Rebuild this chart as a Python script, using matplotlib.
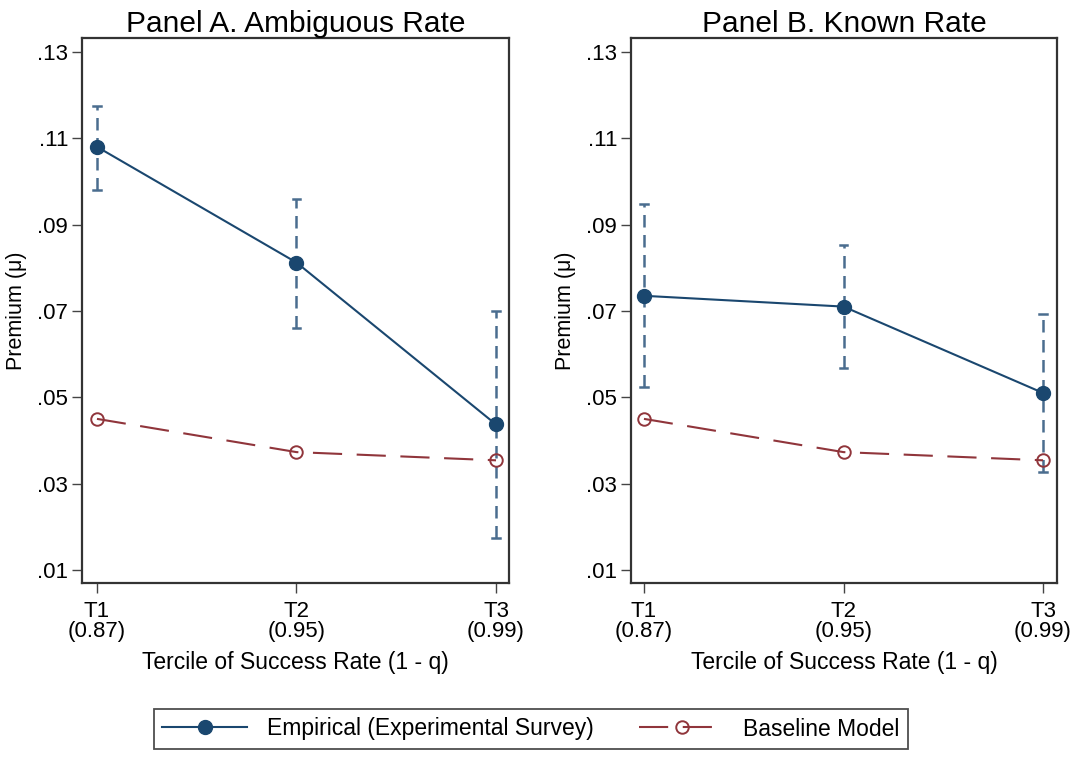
import matplotlib
matplotlib.use("Agg")
import matplotlib.pyplot as plt
import numpy as np

plt.rcParams['font.family'] = ['Liberation Sans', 'DejaVu Sans']

terciles = ["T1\n(0.87)", "T2\n(0.95)", "T3\n(0.99)"]
x = [1, 2, 3]

# Panel A: Ambiguous rate
emp_a = [0.108, 0.0812, 0.0437]
emp_a_lo = [0.098, 0.066, 0.0173]
emp_a_hi = [0.1175, 0.096, 0.070]
base_a = [0.045, 0.0373, 0.0354]

# Panel B: Known rate
emp_b = [0.0735, 0.0710, 0.0510]
emp_b_lo = [0.0523, 0.0567, 0.0327]
emp_b_hi = [0.0947, 0.0853, 0.0693]
base_b = [0.045, 0.0373, 0.0354]

yticks = [0.01, 0.03, 0.05, 0.07, 0.09, 0.11, 0.13]
ytick_labels = [".01", ".03", ".05", ".07", ".09", ".11", ".13"]

navy = "#1a476f"
ci_col = "#4a6d8f"
maroon = "#90353b"

fig = plt.figure(figsize=(10.77, 7.57), dpi=100)
axA = fig.add_axes([82/1077, 1-583/757, 427/1077, 545/757])
axB = fig.add_axes([631/1077, 1-583/757, 426/1077, 545/757])

def draw(ax, emp, lo, hi, base, title, xl):
    for xi, l, h in zip(x, lo, hi):
        ax.plot([xi, xi], [l, h], color=ci_col, lw=1.8, dashes=(5, 3), zorder=2)
        ax.plot([xi - 0.02, xi + 0.02], [l, l], color=ci_col, lw=1.8, zorder=2)
        ax.plot([xi - 0.02, xi + 0.02], [h, h], color=ci_col, lw=1.8, zorder=2)
    l1, = ax.plot(x, emp, color=navy, lw=1.5, marker='o', ms=10, mfc=navy, mec=navy, zorder=4,
                  label="Empirical (Experimental Survey)")
    l2, = ax.plot(x, base, color=maroon, lw=1.5, dashes=(14, 7), marker='o', ms=9,
                  mfc='none', mec=maroon, mew=1.4, zorder=3, label="Baseline Model")
    ax.set_xlim(*xl)
    ax.set_ylim(0.00699, 0.1332)
    ax.set_yticks(yticks)
    ax.set_yticklabels(ytick_labels)
    ax.set_xticks(x)
    ax.set_xticklabels(terciles, linespacing=0.95)
    ax.tick_params(axis='both', direction='out', length=7, width=1.0, color='#444444',
                   labelsize=16, pad=3)
    ax.tick_params(axis='x', pad=6)
    for s in ax.spines.values():
        s.set_color('#333333')
        s.set_linewidth(1.6)
    ax.set_title(title, fontsize=21.5, pad=4)
    ax.set_xlabel("Tercile of Success Rate (1 - q)", fontsize=16.5, labelpad=6)
    ax.set_ylabel("Premium (\u03bc)", fontsize=15.5, labelpad=7)
    return l1, l2

h1, h2 = draw(axA, emp_a, emp_a_lo, emp_a_hi, base_a, "Panel A. Ambiguous Rate", (0.925, 3.065))
draw(axB, emp_b, emp_b_lo, emp_b_hi, base_b, "Panel B. Known Rate", (0.935, 3.07))

leg = fig.legend([h1, h2], ["Empirical (Experimental Survey)", "Baseline Model"],
                 loc='center', bbox_to_anchor=(531/1077, 1-729/757), ncol=2, fontsize=16.5,
                 frameon=True, fancybox=False, edgecolor='#222222', handlelength=3.7,
                 columnspacing=2.0, borderpad=0.35, handletextpad=0.85, borderaxespad=0)
leg.get_frame().set_linewidth(1.3)

fig.savefig("out.png", dpi=100)
